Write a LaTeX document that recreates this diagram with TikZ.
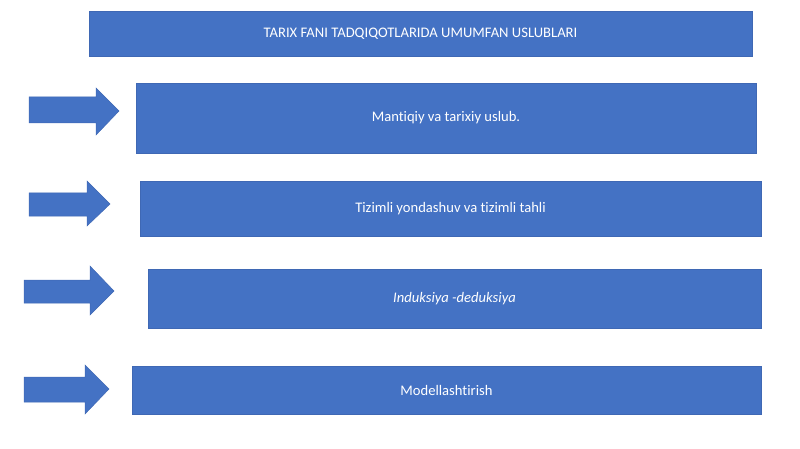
\documentclass[tikz,border=0pt]{standalone}
\usepackage{fontspec}
\setmainfont{Carlito}[Ligatures={NoCommon}]
\usetikzlibrary{positioning}
\definecolor{officeblue}{HTML}{4472C4}
\definecolor{edgeblue}{HTML}{3F68B4}

\begin{document}
\begin{tikzpicture}[x=1pt,y=-1pt,
    box node/.style={rectangle,draw=edgeblue,line width=0.5pt,fill=officeblue,text=white,font=\fontsize{14.6}{17}\selectfont,inner sep=0pt},
    big arrow/.style={fill=officeblue,draw=edgeblue,line width=0.5pt,line join=miter}]
    \useasboundingbox (0,0) rectangle (800,449);
    \begin{scope}
      \node[box node,minimum width=663pt,minimum height=45pt] (title) at (420.5,33.5) {TARIX FANI TADQIQOTLARIDA UMUMFAN USLUBLARI};
      \node[box node,minimum width=620pt,minimum height=70pt] (m1) at (446,118) {Mantiqiy va tarixiy uslub.};
      \node[box node,minimum width=621pt,minimum height=55pt] (m2) at (450.5,208.5) {Tizimli yondashuv va tizimli tahli};
      \node[box node,minimum width=613pt,minimum height=59pt] (m3) at (454.5,298.5) {\itshape Induksiya -deduksiya};
      \node[box node,minimum width=629pt,minimum height=48pt] (m4) at (446.5,390) {Modellashtirish};

      % arrows pointing at the boxes
      \draw[big arrow] (29,97) -- (96,97) -- (96,88) -- (119,111) -- (96,135) -- (96,123) -- (29,123) -- cycle;
      \draw[big arrow] (29,193) -- (87,193) -- (87,181) -- (110,204) -- (87,226) -- (87,216) -- (29,216) -- cycle;
      \draw[big arrow] (24,280) -- (90,280) -- (90,266) -- (114,291) -- (90,315) -- (90,303) -- (24,303) -- cycle;
      \draw[big arrow] (24,377) -- (85,377) -- (85,365) -- (109,389) -- (85,414) -- (85,402) -- (24,402) -- cycle;
    \end{scope}
  \end{tikzpicture}
\end{document}
